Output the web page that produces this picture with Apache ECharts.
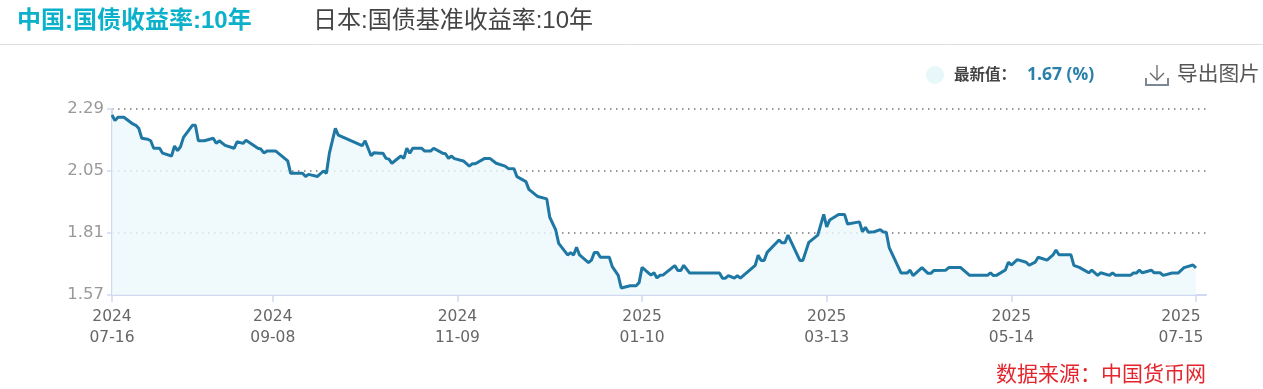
<!DOCTYPE html>
<html><head><meta charset="utf-8">
<style>html,body{margin:0;padding:0;background:#fff}#c{width:1263px;height:389px}</style>
<script src="https://cdn.jsdelivr.net/npm/echarts@6/dist/echarts.min.js"></script>
</head><body><div id="c"></div>
<script>
const seriesTitle = '中国:国债收益率:10年';
const otherTitle = '日本:国债基准收益率:10年';
const latestLabel = '最新值\uFF1A';
const latestValue = '1.67 (%)';
const exportLabel = '导出图片';
const sourceLabel = '数据来源\uFF1A中国货币网';
const yTicks = [1.57, 1.81, 2.05, 2.29];
const xTicks = ['2024-07-16','2024-09-08','2024-11-09','2025-01-10','2025-03-13','2025-05-14','2025-07-15'];
const dates = [
'2024-07-16','2024-07-17','2024-07-18','2024-07-20','2024-07-23','2024-07-24','2024-07-25','2024-07-26','2024-07-28','2024-07-29',
'2024-07-30','2024-08-01','2024-08-02','2024-08-05','2024-08-06','2024-08-07','2024-08-08','2024-08-09','2024-08-12','2024-08-13',
'2024-08-14','2024-08-16','2024-08-19','2024-08-20','2024-08-21','2024-08-23','2024-08-26','2024-08-27','2024-08-29','2024-08-30',
'2024-09-03','2024-09-04','2024-09-05','2024-09-06','2024-09-09','2024-09-13','2024-09-14','2024-09-18','2024-09-19','2024-09-20',
'2024-09-23','2024-09-25','2024-09-26','2024-09-27','2024-09-29','2024-09-30','2024-10-08','2024-10-09','2024-10-11','2024-10-12',
'2024-10-14','2024-10-15','2024-10-16','2024-10-17','2024-10-18','2024-10-21','2024-10-22','2024-10-23','2024-10-24','2024-10-25',
'2024-10-28','2024-10-29','2024-10-31','2024-11-01','2024-11-04','2024-11-05','2024-11-06','2024-11-07','2024-11-08','2024-11-11',
'2024-11-13','2024-11-14','2024-11-15','2024-11-18','2024-11-20','2024-11-22','2024-11-25','2024-11-26','2024-11-28','2024-11-29',
'2024-12-02','2024-12-03','2024-12-06','2024-12-09','2024-12-10','2024-12-12','2024-12-13','2024-12-16','2024-12-17','2024-12-18',
'2024-12-19','2024-12-20','2024-12-23','2024-12-24','2024-12-25','2024-12-26','2024-12-27','2024-12-30','2024-12-31','2025-01-02',
'2025-01-03','2025-01-06','2025-01-08','2025-01-09','2025-01-10','2025-01-13','2025-01-14','2025-01-15','2025-01-16','2025-01-17',
'2025-01-21','2025-01-22','2025-01-23','2025-01-24','2025-01-26','2025-02-05','2025-02-06','2025-02-07','2025-02-08','2025-02-10',
'2025-02-11','2025-02-12','2025-02-17','2025-02-18','2025-02-19','2025-02-20','2025-02-21','2025-02-25','2025-02-26','2025-02-27',
'2025-02-28','2025-03-04','2025-03-05','2025-03-07','2025-03-10','2025-03-12','2025-03-13','2025-03-14','2025-03-17','2025-03-19',
'2025-03-20','2025-03-24','2025-03-25','2025-03-26','2025-03-27','2025-03-29','2025-03-31','2025-04-01','2025-04-02','2025-04-03',
'2025-04-07','2025-04-09','2025-04-10','2025-04-11','2025-04-14','2025-04-16','2025-04-17','2025-04-18','2025-04-22','2025-04-23',
'2025-04-27','2025-04-30','2025-05-06','2025-05-07','2025-05-08','2025-05-09','2025-05-12','2025-05-13','2025-05-14','2025-05-16',
'2025-05-19','2025-05-20','2025-05-22','2025-05-23','2025-05-26','2025-05-28','2025-05-29','2025-05-30','2025-06-03','2025-06-04',
'2025-06-06','2025-06-09','2025-06-10','2025-06-12','2025-06-13','2025-06-16','2025-06-17','2025-06-18','2025-06-23','2025-06-24',
'2025-06-25','2025-06-26','2025-06-27','2025-06-30','2025-07-01','2025-07-03','2025-07-04','2025-07-07','2025-07-09','2025-07-11',
'2025-07-14','2025-07-15'];
const values = [
2.267,2.245,2.258,2.258,2.232,2.227,2.215,2.177,2.173,2.167,
2.138,2.138,2.119,2.108,2.147,2.129,2.144,2.180,2.227,2.227,
2.167,2.167,2.177,2.157,2.167,2.149,2.138,2.163,2.157,2.169,
2.138,2.135,2.120,2.127,2.127,2.089,2.041,2.041,2.029,2.037,
2.029,2.050,2.041,2.119,2.215,2.189,2.148,2.167,2.109,2.121,
2.119,2.119,2.099,2.096,2.080,2.108,2.099,2.138,2.119,2.138,
2.138,2.127,2.127,2.138,2.119,2.117,2.099,2.108,2.098,2.089,
2.069,2.078,2.078,2.098,2.098,2.080,2.069,2.060,2.059,2.028,
2.009,1.979,1.951,1.942,1.871,1.822,1.770,1.725,1.734,1.725,
1.755,1.725,1.695,1.705,1.735,1.735,1.716,1.716,1.680,1.646,
1.597,1.606,1.606,1.618,1.677,1.647,1.656,1.636,1.646,1.647,
1.684,1.665,1.665,1.685,1.655,1.655,1.635,1.635,1.645,1.635,
1.645,1.635,1.685,1.724,1.704,1.704,1.735,1.783,1.772,1.772,
1.802,1.704,1.704,1.774,1.802,1.882,1.834,1.860,1.882,1.882,
1.845,1.853,1.815,1.832,1.813,1.815,1.823,1.814,1.813,1.753,
1.655,1.655,1.666,1.645,1.676,1.654,1.654,1.665,1.666,1.676,
1.676,1.646,1.646,1.656,1.645,1.646,1.667,1.697,1.686,1.707,
1.697,1.685,1.697,1.716,1.705,1.725,1.744,1.726,1.726,1.685,
1.676,1.656,1.666,1.646,1.656,1.646,1.656,1.646,1.646,1.655,
1.655,1.666,1.656,1.666,1.656,1.656,1.646,1.655,1.655,1.676,
1.686,1.675];

const chart = echarts.init(document.getElementById('c'), null, {renderer:'canvas'});
const fontCn = '"Liberation Sans","Noto Sans CJK SC",sans-serif';
const axisColor = '#d0d9ef';
const toTime = d => Date.parse(d + 'T00:00:00Z');
const tickNums = xTicks.map(toTime);
const lastTick = tickNums[tickNums.length - 1];
const labelFor = v => { const s = new Date(v).toISOString(); return s.slice(0,4) + '\n' + s.slice(5,10); };
chart.setOption({
  animation:false,
  grid:{left:112,right:57,top:109,bottom:94},
  xAxis:{
    type:'value',
    min:toTime('2024-07-16'),
    max:toTime('2025-07-18') + 9*3600000,
    axisLine:{show:true,onZero:false,lineStyle:{color:axisColor,width:2}},
    axisTick:{show:true,length:7,lineStyle:{color:axisColor,width:1.5},customValues:tickNums},
    splitLine:{show:false},
    axisLabel:{
      customValues:tickNums,color:'#666',fontSize:15.5,fontFamily:'"DejaVu Sans"',lineHeight:21,margin:11,
      hideOverlap:false,showMinLabel:true,showMaxLabel:true,
      formatter:function(v){
        const s = labelFor(v);
        if (Math.abs(v-lastTick)<1000) {
          const p = s.split('\n');
          return '{last|'+p[0]+'}\n{last|'+p[1]+'}';
        }
        return s;
      },
      rich:{last:{padding:[0,30,0,0],color:'#666',fontSize:15.5,fontFamily:'"DejaVu Sans"',lineHeight:21}}
    }
  },
  yAxis:{
    type:'value',min:1.57,max:2.29,
    axisLine:{show:true,lineStyle:{color:axisColor,width:2}},
    axisTick:{show:true,length:5,lineStyle:{color:axisColor,width:1.5},customValues:yTicks},
    axisLabel:{customValues:yTicks,color:'#999',fontSize:16.5,fontFamily:'"DejaVu Sans"',margin:8,padding:[5,0,0,0],
      formatter:v=>Number(v).toFixed(2)},
    splitLine:{show:true,lineStyle:{color:'#777',type:[1.5,4.5],width:1.5}}
  },
  series:[{
    type:'line',
    data:dates.map((d,i)=>[toTime(d),values[i]]),
    showSymbol:false,smooth:false,
    lineStyle:{color:'#1f78a4',width:3},
    areaStyle:{color:'rgba(236,247,251,0.8)',opacity:1},
    z:3
  }],
  graphic:[
    {type:'text',left:17,top:9,style:{text:seriesTitle,fill:'#0bb1cb',font:'bold 24px '+fontCn}},
    {type:'text',left:313,top:9,style:{text:otherTitle,fill:'#444',font:'24px '+fontCn}},
    {type:'line',shape:{x1:0,y1:44.5,x2:1263,y2:44.5},style:{stroke:'#dedede',lineWidth:1}},
    {type:'circle',shape:{cx:935,cy:75,r:9},style:{fill:'#e7f7fa'}},
    {type:'text',left:954,top:68,style:{text:latestLabel,fill:'#444',font:'bold 15.5px '+fontCn}},
    {type:'text',left:1027,top:66,style:{text:latestValue,fill:'#2b80a9',font:'bold 17.5px "Open Sans",'+fontCn}},
    {type:'polyline',shape:{points:[[1146,78],[1146,85],[1168,85],[1168,78]]},style:{stroke:'#7c8794',fill:null,lineWidth:2}},
    {type:'line',shape:{x1:1157,y1:65,x2:1157,y2:80},style:{stroke:'#666',lineWidth:1.3}},
    {type:'polyline',shape:{points:[[1150,73],[1157,80],[1164,73]]},style:{stroke:'#666',fill:null,lineWidth:1.3}},
    {type:'text',left:1177,top:65,style:{text:exportLabel,fill:'#555',font:'20.7px '+fontCn}},
    {type:'text',right:57,top:365,style:{text:sourceLabel,fill:'#e3262e',font:'21px '+fontCn}}
  ]
});
</script></body></html>
